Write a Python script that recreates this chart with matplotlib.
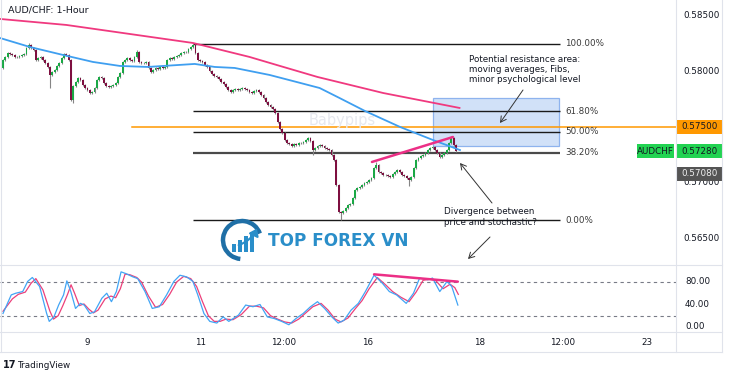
import matplotlib
matplotlib.use('Agg')
import matplotlib.pyplot as plt
import numpy as np
from matplotlib.patches import Rectangle, FancyArrowPatch, Arc, Polygon
from matplotlib.lines import Line2D
import matplotlib.transforms as mtrans

# ---------------- data ----------------
closes = [
    0.58102, 0.58129, 0.58165, 0.58156, 0.58147, 0.58129, 0.58129, 0.58138, 0.58147, 0.58156,
    0.58209, 0.58236, 0.58209, 0.58192, 0.58102, 0.58120, 0.58129, 0.58102, 0.58075, 0.58039,
    0.57967, 0.57994, 0.58012, 0.58048, 0.58075, 0.58120, 0.58156, 0.58147, 0.58102, 0.57742,
    0.57868, 0.57904, 0.57940, 0.57922, 0.57877, 0.57850, 0.57832, 0.57805, 0.57814, 0.57850,
    0.57922, 0.57949, 0.57940, 0.57895, 0.57868, 0.57859, 0.57868, 0.57877, 0.57895, 0.57949,
    0.57985, 0.58084, 0.58102, 0.58120, 0.58102, 0.58093, 0.58129, 0.58174, 0.58084, 0.58075,
    0.58075, 0.58084, 0.58030, 0.57994, 0.58012, 0.58030, 0.58021, 0.58039, 0.58030, 0.58039,
    0.58102, 0.58120, 0.58111, 0.58129, 0.58138, 0.58147, 0.58165, 0.58174, 0.58174, 0.58200,
    0.58218, 0.58236, 0.58165, 0.58102, 0.58093, 0.58084, 0.58057, 0.58039, 0.58003, 0.57976,
    0.57958, 0.57949, 0.57931, 0.57904, 0.57886, 0.57859, 0.57832, 0.57814, 0.57832, 0.57841,
    0.57832, 0.57841, 0.57850, 0.57841, 0.57832, 0.57814, 0.57805, 0.57823, 0.57832, 0.57814,
    0.57787, 0.57760, 0.57725, 0.57698, 0.57680, 0.57662, 0.57626, 0.57545, 0.57482, 0.57446,
    0.57383, 0.57356, 0.57347, 0.57329, 0.57347, 0.57338, 0.57356, 0.57356, 0.57365, 0.57383,
    0.57401, 0.57374, 0.57293, 0.57311, 0.57329, 0.57338, 0.57329, 0.57311, 0.57302, 0.57293,
    0.57249, 0.57204, 0.56979, 0.56737, 0.56728, 0.56746, 0.56773, 0.56800, 0.56808, 0.56862,
    0.56934, 0.56952, 0.56961, 0.56979, 0.56997, 0.57006, 0.57024, 0.57042, 0.57132, 0.57159,
    0.57096, 0.57087, 0.57069, 0.57069, 0.57060, 0.57051, 0.57078, 0.57096, 0.57114, 0.57096,
    0.57069, 0.57060, 0.57042, 0.57024, 0.57051, 0.57132, 0.57204, 0.57222, 0.57240, 0.57249,
    0.57267, 0.57293, 0.57311, 0.57320, 0.57293, 0.57267, 0.57231, 0.57249, 0.57267, 0.57293,
    0.57356, 0.57401, 0.57338, 0.57280,
]
first_open = 0.58030
high_override = {11: 0.58254, 57: 0.58192, 81: 0.58246, 159: 0.57186, 191: 0.57419}
low_override = {20: 0.57850, 30: 0.57715, 132: 0.57249, 144: 0.56664, 173: 0.56970}
wick = 0.00008

# moving averages (bar index, price)
ma_pink_x = [-1.3, 27, 81, 105, 118, 134, 162, 194.5]
ma_pink_y = [0.58470, 0.58416, 0.58254, 0.58129, 0.58048, 0.57949, 0.57805, 0.57671]
ma_blue_x = [-1.3, 11.5, 25.5, 38.3, 49.8, 61.7, 81.7, 90.2, 98.7, 113.6, 125.1, 134.9,
             143.4, 154.2, 169.2, 183.2, 194.7]
ma_blue_y = [0.58299, 0.58218, 0.58147, 0.58084, 0.58048, 0.58039, 0.58066, 0.58039, 0.58030,
             0.57967, 0.57904, 0.57850, 0.57760, 0.57644, 0.57500, 0.57383, 0.57293]

# Fibonacci swing
fib_high, fib_low = 0.58246, 0.56664
fib_start, fib_end = 81, 237.3
fib_levels = [1.0, 0.618, 0.5, 0.382, 0.0]
fib_labels = ["100.00%", "61.80%", "50.00%", "38.20%", "0.00%"]

psych_level = 0.57500
last_price = 0.57280
grey_price = 0.57080
zone_x = (183.2, 236.9)
zone_y = (0.57329, 0.57760)
div_price_x = [157.2, 191.7]
div_price_y = [0.57186, 0.57410]

# stochastic
stk_x = [0, 3.5, 5.4, 8.4, 10.5, 12.5, 15.6, 18.6, 19.7, 21.7, 23.7, 25.8, 27.2, 28.9, 30.9, 33,
         34.6, 37, 39, 42.1, 44.2, 46.2, 48.3, 50.3, 52.3, 55.4, 57.4, 60.5, 63.6, 66.6, 69.7,
         72.8, 75.4, 78.3, 80.9, 83, 85.6, 88.1, 91.1, 93.8, 96.2, 100.3, 103.4, 106.5, 109.5,
         112.6, 115.6, 118.7, 121.8, 124.8, 127.9, 131, 134, 137, 140.1, 142.8, 145.3, 148.3,
         151.4, 154.4, 158.1, 161.6, 164.6, 167.7, 171.8, 174.9, 177.5, 181, 183, 186.1, 189.2,
         191.2, 193.8]
stk_y = [24, 57, 60, 63, 81, 88, 72, 24, 10, 18, 39, 57, 82, 63, 33, 42,
         39, 24, 27, 51, 60, 45, 63, 98, 95, 89, 86, 63, 33, 36, 57,
         81, 92, 89, 81, 57, 24, 10, 7, 18, 10, 21, 39, 36, 40,
         18, 15, 10, 4, 15, 24, 36, 45, 33, 18, 7, 12, 30,
         42, 63, 92, 78, 63, 57, 42, 60, 87, 84, 87, 63, 81,
         72, 39]
std_x = [0, 4, 6.5, 9.5, 12, 14, 17, 20, 21.5, 23.5, 25.5, 27.5, 29, 30.5, 32.5, 34.5, 36.5,
         38.5, 40.5, 43.5, 46, 48, 50, 52, 54, 57, 59, 62, 65, 68, 71, 74, 77, 80, 82.5, 85,
         87.5, 90, 92.5, 95, 98, 101.5, 105, 108, 111, 114, 117, 120, 123, 126, 129, 132,
         135.5, 138.5, 141.5, 144, 147, 150, 153, 156, 159.5, 163, 166, 169.5, 173, 176, 179,
         182, 184.5, 187.5, 190.5, 192.5, 194]
std_y = [28, 50, 58, 62, 78, 86, 66, 28, 14, 20, 38, 58, 75, 60, 38, 41, 32,
         25, 30, 50, 55, 52, 68, 94, 93, 88, 80, 55, 35, 40, 58, 80, 90, 86, 72, 45,
         20, 10, 10, 14, 13, 22, 37, 37, 34, 20, 14, 9, 7, 14, 25, 36,
         42, 30, 14, 9, 16, 32, 47, 68, 88, 75, 63, 53, 45, 62, 83,
         85, 82, 68, 76, 70, 58]
stoch_div_x = [158.1, 193.8]
stoch_div_y = [93.6, 80.6]

date_ticks = [36, 84, 119.5, 155.5, 203, 238.5, 274.5]
date_labels = ["9", "11", "12:00", "16", "18", "12:00", "23"]
price_ticks = [0.58500, 0.58000, 0.57000, 0.56500]
stoch_ticks = [80, 40, 0]

# ---------------- figure ----------------
W, H = 750, 375
fig = plt.figure(figsize=(7.5, 3.75), dpi=100)
fig.patch.set_facecolor('white')
TXT = '#131722'
FS = 6.3

def fx(px):
    return px / W

def fy(py):
    return 1 - py / H

AX_R = 676
ax = fig.add_axes([0, fy(265), fx(AX_R), (265) / H])
axs = fig.add_axes([0, fy(332), fx(AX_R), (332 - 265) / H])
for a in (ax, axs):
    a.set_facecolor('none')
    for s in a.spines.values():
        s.set_visible(False)

xlim = (-1.28, -1.28 + AX_R / 2.347)
ax.set_xlim(*xlim)
axs.set_xlim(*xlim)
ax.set_ylim(0.56261, 0.58640)
axs.set_ylim(-8.9, 110.2)
ax.set_xticks([])
ax.set_yticks([])
axs.set_yticks([])
axs.set_xticks(date_ticks)
axs.set_xticklabels(date_labels, fontsize=FS, color=TXT)
axs.tick_params(axis='x', length=0, pad=4.5)

# candles
n = len(closes)
idx = np.arange(n)
opens = [first_open] + closes[:-1]
highs, lows = [], []
for i in range(n):
    o, c = opens[i], closes[i]
    highs.append(high_override.get(i, max(o, c) + wick))
    lows.append(low_override.get(i, min(o, c) - wick))
opens = np.array(opens)
cl = np.array(closes)
up = cl >= opens
body_col = np.where(up, '#1aa845', '#7e0f40')
ax.vlines(idx, lows, highs, color='#858585', lw=0.8, zorder=4)
bottoms = np.minimum(opens, cl)
heights = np.maximum(np.abs(cl - opens), 0.00003)
ax.bar(idx, heights, bottom=bottoms, width=0.78, color=body_col, edgecolor='none', zorder=5)

# resistance zone
ax.add_patch(Rectangle((zone_x[0], zone_y[0]), zone_x[1] - zone_x[0], zone_y[1] - zone_y[0],
                       facecolor='#c9dcf7', edgecolor='#7fa9ec', lw=0.9, alpha=0.85, zorder=2))

# moving averages
ax.plot(ma_pink_x, ma_pink_y, color='#f0397f', lw=1.3, zorder=6)
ax.plot(ma_blue_x, ma_blue_y, color='#3f9ff0', lw=1.3, zorder=6)

# fib
rng = fib_high - fib_low
for lv, lab in zip(fib_levels, fib_labels):
    p = fib_low + lv * rng
    if lv == 0.382:
        col, lw = '#4a4a4a', 1.6
    else:
        col, lw = '#1a1a1a', 1.0
    ax.plot([fib_start, fib_end], [p, p], color=col, lw=lw, zorder=3, solid_capstyle='butt')
    ax.text(239.5, p, lab, fontsize=FS, color='#3a3a3a', va='center', ha='left', zorder=7)

# psychological level
ax.plot([55, xlim[1]], [psych_level, psych_level], color='#ff9800', lw=1.1, zorder=3)

# divergence on price
ax.plot(div_price_x, div_price_y, color='#ec2f86', lw=1.8, zorder=7, solid_capstyle='round')

# price axis labels
yt = ax.get_yaxis_transform()
for p in price_ticks:
    ax.text(683 / AX_R, p, f"{p:.5f}", transform=yt, fontsize=FS, color=TXT,
            va='center', ha='left', clip_on=False)

def price_box(p, fc, tc, x0=676, x1=723, text=None):
    hh = 7 * 0.0000898
    ax.add_patch(Rectangle((x0 / AX_R, p - hh), (x1 - x0) / AX_R, 2 * hh, transform=yt,
                           facecolor=fc, edgecolor='none', clip_on=False, zorder=8))
    ax.text((x0 + x1) / 2 / AX_R, p, text if text else f"{p:.5f}", transform=yt, fontsize=FS,
            color=tc, va='center', ha='center', clip_on=False, zorder=9)

price_box(grey_price, '#555555', '#f0f0f0')
price_box(psych_level, '#ff9800', TXT)
price_box(last_price, '#22d352', TXT)
price_box(last_price, '#22d352', TXT, x0=637, x1=674, text='AUDCHF')

# stochastic
axs.axhline(80, color='#787b86', lw=0.8, ls=(0, (3, 3)))
axs.axhline(20, color='#787b86', lw=0.8, ls=(0, (3, 3)))
axs.plot(std_x, std_y, color='#ec407a', lw=0.9, zorder=3)
axs.plot(stk_x, stk_y, color='#42a5f5', lw=0.9, zorder=4)
axs.plot(stoch_div_x, stoch_div_y, color='#ec2f86', lw=1.8, zorder=5, solid_capstyle='round')
yts = axs.get_yaxis_transform()
for v in stoch_ticks:
    axs.text(685 / AX_R, v, f"{v:.2f}", transform=yts, fontsize=FS, color=TXT,
             va='center', ha='left', clip_on=False)

# ---------------- overlay (frame, notes, logos) ----------------
ov = fig.add_axes([0, 0, 1, 1], zorder=10)
ov.set_xlim(0, W)
ov.set_ylim(H, 0)
ov.axis('off')
ov.patch.set_alpha(0)

frame = '#e0e3eb'
for (x0, y0, x1, y1) in [(0, 265, 722, 265), (0, 332, 722, 332), (0, 352, 722, 352),
                         (676, 0, 676, 352), (722, 0, 722, 352), (1, 0, 1, 352)]:
    ov.add_line(Line2D([x0, x1], [y0, y1], color=frame, lw=0.8))

ov.text(8, 10, "AUD/CHF: 1-Hour", fontsize=6.8, color=TXT, va='center', ha='left')
ov.text(342, 121, "Babypips", fontsize=10.5, color='#e6e8ee', va='center', ha='center', zorder=0)

ov.text(469, 54.5, "Potential resistance area:\nmoving averages, Fibs,\nminor psychological level",
        fontsize=FS, color=TXT, va='top', ha='left', linespacing=1.17)
ov.text(444, 207.5, "Divergence between\nprice and stochastic?",
        fontsize=FS, color=TXT, va='top', ha='left', linespacing=1.17)

for (a, b) in [((523, 90), (500, 123)), ((492, 203), (460, 163)), ((490, 237), (468, 259))]:
    ov.add_patch(FancyArrowPatch(a, b, arrowstyle='->,head_length=4,head_width=2.2',
                                 color='#333333', lw=0.7, shrinkA=0, shrinkB=0))

# TOP FOREX VN logo
blue = '#2a8ec9'
ov.add_patch(Arc((242, 240), 38, 38, theta1=95, theta2=340, color='#1f6fa6', lw=3.2))
for k, (bx, bh) in enumerate([(232, 8), (238, 12), (244, 16), (250, 20)]):
    ov.add_patch(Rectangle((bx, 252 - bh), 4, bh, facecolor=blue, edgecolor='none'))
ov.add_patch(FancyArrowPatch((236, 246), (258, 226), connectionstyle='arc3,rad=0.25',
                             arrowstyle='-|>,head_length=4,head_width=3', color=blue, lw=1.5))
ov.text(268, 241, "TOP FOREX VN", fontsize=12.2, fontweight='bold', color=blue,
        va='center', ha='left')

# TradingView footer
ov.text(3, 365, "17", fontsize=7, fontweight='bold', color=TXT, va='center', ha='left')
ov.text(17, 365, "TradingView", fontsize=FS, color=TXT, va='center', ha='left')

fig.savefig('out.png', dpi=100, facecolor='white')
